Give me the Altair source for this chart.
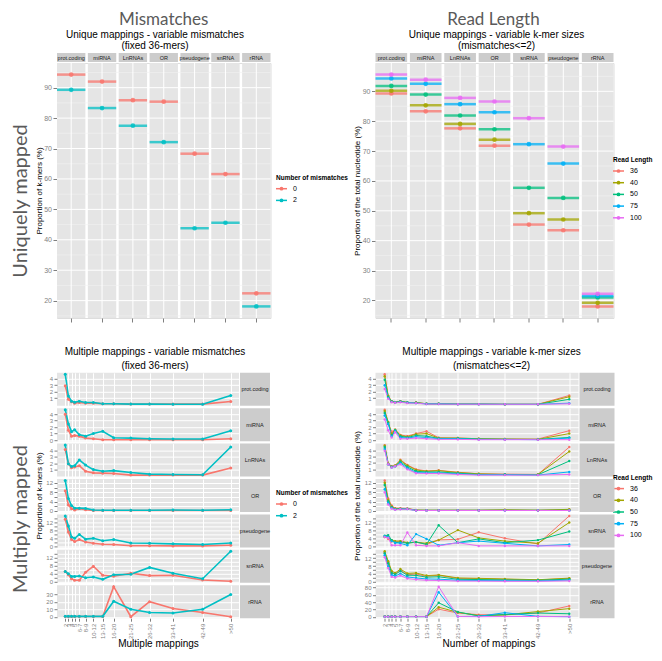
import altair as alt
import pandas as pd

# ================= DATA =================
tl_categories = ["prot.coding", "miRNA", "LnRNAs", "OR", "pseudogene", "snRNA", "rRNA"]
tl_mismatch_0 = [94.3, 92.0, 85.9, 85.4, 68.3, 61.6, 22.4]
tl_mismatch_2 = [89.3, 83.3, 77.5, 72.1, 43.8, 45.6, 18.1]

tr_categories = ["prot.coding", "miRNA", "LnRNAs", "OR", "snRNA", "pseudogene", "rRNA"]
tr_len_36 = [89.3, 83.3, 77.6, 71.8, 45.4, 43.5, 18.0]
tr_len_40 = [90.2, 85.3, 79.1, 73.8, 49.2, 47.1, 19.2]
tr_len_50 = [91.8, 88.9, 81.9, 77.3, 57.7, 54.3, 21.0]
tr_len_75 = [94.3, 92.5, 85.7, 83.0, 72.3, 65.8, 21.5]
tr_len_100 = [95.6, 93.9, 87.8, 86.6, 81.0, 71.5, 22.2]

mapping_labels = ["2", "3", "4", "5", "6-7", "8-9", "10-12", "13-15", "16-20",
                  "21-25", "26-32", "33-41", "42-49", ">50"]
mapping_x = [2, 3, 4, 5, 6.5, 8.5, 11, 14, 17.5, 23, 29, 36.5, 46, 55]

bl_categories = ["prot.coding", "miRNA", "LnRNAs", "OR", "pseudogene", "snRNA", "rRNA"]
bl_mismatch_0 = {
    "prot.coding": [2.9, 0.8, 0.4, 0.2, 0.3, 0.2, 0.2, 0.1, 0.1, 0.05, 0.05, 0.05, 0.05, 0.45],
    "miRNA": [4.0, 1.5, 0.6, 0.7, 0.6, 0.3, 0.2, 0.05, 0.05, 0.05, 0.05, 0.05, 0.05, 0.2],
    "LnRNAs": [4.1, 1.9, 1.3, 1.4, 1.6, 0.75, 0.5, 0.45, 0.4, 0.15, 0.15, 0.15, 0.15, 1.25],
    "OR": [8.6, 2.6, 1.0, 0.4, 1.0, 0.5, 0.2, 0.2, 0.2, 0.2, 0.2, 0.2, 0.2, 0.2],
    "pseudogene": [13.4, 7.1, 3.4, 2.4, 3.4, 2.2, 1.6, 1.1, 1.0, 0.4, 0.4, 0.3, 0.3, 0.6],
    "snRNA": [5.0, 3.3, 1.3, 0.5, 0.5, 4.6, 7.7, 3.1, 2.6, 4.1, 2.9, 3.1, 0.7, 0.0],
    "rRNA": [0.3, 0.3, 0.3, 0.3, 0.3, 0.3, 0.3, 0.3, 40.0, 0.0, 20.0, 11.0, 5.5, 0.0],
}
bl_mismatch_2 = {
    "prot.coding": [4.7, 1.3, 0.5, 0.35, 0.5, 0.3, 0.3, 0.1, 0.1, 0.05, 0.05, 0.02, 0.02, 1.4],
    "miRNA": [4.7, 2.5, 1.3, 1.6, 0.8, 0.6, 1.0, 1.35, 0.35, 0.3, 0.2, 0.15, 0.15, 1.45],
    "LnRNAs": [4.8, 1.9, 1.5, 1.6, 2.5, 1.7, 1.0, 0.75, 0.85, 0.55, 0.3, 0.25, 0.2, 4.5],
    "OR": [13.0, 5.3, 2.3, 1.2, 1.2, 1.1, 0.4, 0.3, 0.3, 0.3, 0.3, 0.4, 0.3, 0.5],
    "pseudogene": [15.0, 10.0, 4.7, 4.0, 5.9, 3.6, 4.0, 2.8, 3.4, 1.7, 1.6, 1.3, 1.0, 1.7],
    "snRNA": [5.0, 3.8, 2.5, 2.5, 2.7, 1.8, 2.2, 1.0, 3.3, 3.6, 7.1, 4.1, 1.3, 15.3],
    "rRNA": [0.5, 0.5, 0.5, 0.5, 0.5, 0.5, 0.5, 0.5, 20.5, 10.0, 5.5, 5.0, 10.0, 29.5],
}

br_categories = ["prot.coding", "miRNA", "LnRNAs", "OR", "snRNA", "pseudogene", "rRNA"]
br_len_36 = {
    "prot.coding": [4.7, 1.3, 0.5, 0.35, 0.5, 0.3, 0.3, 0.1, 0.1, 0.05, 0.05, 0.02, 0.02, 1.4],
    "miRNA": [4.7, 2.5, 1.3, 1.6, 0.8, 0.6, 1.0, 1.35, 0.35, 0.3, 0.2, 0.15, 0.15, 1.45],
    "LnRNAs": [4.8, 1.9, 1.5, 1.6, 2.5, 1.7, 1.0, 0.75, 0.85, 0.55, 0.3, 0.25, 0.2, 4.5],
    "OR": [13.0, 5.3, 2.3, 1.2, 1.2, 1.1, 0.4, 0.3, 0.3, 0.3, 0.3, 0.4, 0.3, 0.5],
    "snRNA": [5.0, 3.8, 2.5, 2.5, 2.7, 1.8, 2.2, 1.0, 3.3, 3.6, 7.1, 4.1, 1.3, 15.3],
    "pseudogene": [15.0, 10.0, 4.7, 4.0, 5.9, 3.6, 4.0, 2.8, 3.4, 1.7, 1.6, 1.3, 1.0, 1.7],
    "rRNA": [0.5, 0.5, 0.5, 0.5, 0.5, 0.5, 0.5, 0.5, 20.5, 10.0, 5.5, 5.0, 10.0, 29.5],
}
br_len_40 = {
    "prot.coding": [4.4, 1.3, 0.5, 0.35, 0.5, 0.3, 0.3, 0.1, 0.1, 0.05, 0.05, 0.02, 0.02, 1.2],
    "miRNA": [4.5, 2.8, 1.0, 1.6, 0.7, 0.5, 0.9, 1.0, 0.3, 0.3, 0.2, 0.15, 0.1, 1.0],
    "LnRNAs": [4.7, 1.9, 1.4, 1.6, 2.4, 1.6, 0.9, 0.7, 0.8, 0.5, 0.3, 0.2, 0.2, 3.8],
    "OR": [12.0, 4.8, 1.9, 1.0, 1.0, 1.0, 0.35, 0.3, 0.3, 0.3, 0.3, 0.5, 0.3, 0.7],
    "snRNA": [4.8, 4.5, 3.2, 2.7, 2.7, 1.9, 2.2, 1.6, 3.2, 8.2, 4.3, 2.7, 1.6, 12.0],
    "pseudogene": [15.5, 10.5, 5.5, 4.5, 6.5, 4.3, 4.5, 3.2, 3.5, 2.0, 1.8, 1.5, 1.1, 1.9],
    "rRNA": [0.3, 0.3, 0.3, 0.3, 0.3, 0.3, 0.3, 0.3, 26.0, 12.0, 3.0, 5.0, 14.0, 22.0],
}
br_len_50 = {
    "prot.coding": [3.85, 1.2, 0.45, 0.3, 0.45, 0.3, 0.25, 0.1, 0.1, 0.05, 0.05, 0.02, 0.02, 0.8],
    "miRNA": [4.2, 2.7, 0.8, 1.5, 0.6, 0.4, 0.7, 0.6, 0.25, 0.25, 0.15, 0.1, 0.1, 0.4],
    "LnRNAs": [4.5, 1.8, 1.4, 1.5, 2.2, 1.4, 0.7, 0.6, 0.6, 0.4, 0.2, 0.2, 0.15, 2.3],
    "OR": [11.1, 4.2, 1.6, 0.8, 0.9, 0.9, 0.3, 0.3, 0.3, 0.3, 0.3, 0.3, 0.3, 0.3],
    "snRNA": [5.4, 5.7, 3.2, 1.9, 2.2, 1.6, 2.2, 1.1, 10.6, 1.9, 3.8, 1.9, 3.2, 7.5],
    "pseudogene": [14.5, 9.5, 4.5, 3.8, 5.5, 3.4, 3.3, 2.4, 2.6, 1.3, 1.2, 1.0, 0.8, 1.4],
    "rRNA": [0.3, 0.3, 0.3, 0.3, 0.3, 0.3, 0.3, 0.3, 38.0, 13.0, 2.0, 6.0, 10.0, 8.0],
}
br_len_75 = {
    "prot.coding": [3.0, 1.0, 0.4, 0.3, 0.4, 0.25, 0.2, 0.08, 0.08, 0.04, 0.04, 0.02, 0.02, 0.2],
    "miRNA": [3.8, 2.5, 0.6, 1.4, 0.4, 0.3, 0.5, 0.4, 0.2, 0.2, 0.1, 0.1, 0.05, 0.3],
    "LnRNAs": [4.2, 1.8, 1.3, 1.5, 2.0, 1.2, 0.5, 0.45, 0.45, 0.3, 0.15, 0.15, 0.1, 0.6],
    "OR": [9.3, 3.5, 1.3, 0.6, 0.8, 0.8, 0.2, 0.2, 0.2, 0.2, 0.2, 0.2, 0.2, 0.2],
    "snRNA": [5.1, 4.8, 2.7, 1.9, 1.6, 0.6, 6.2, 3.8, 0.6, 1.9, 2.7, 1.6, 0.3, 1.0],
    "pseudogene": [13.5, 8.0, 3.5, 3.0, 4.2, 2.5, 2.0, 1.5, 1.4, 0.8, 0.7, 0.6, 0.5, 0.9],
    "rRNA": [0.2, 0.2, 0.2, 0.2, 0.2, 0.2, 0.2, 0.2, 67.0, 0.5, 1.0, 11.0, 1.0, 0.0],
}
br_len_100 = {
    "prot.coding": [2.4, 0.9, 0.35, 0.25, 0.35, 0.2, 0.2, 0.05, 0.05, 0.03, 0.03, 0.02, 0.02, 0.1],
    "miRNA": [3.2, 1.5, 0.4, 1.2, 0.2, 0.2, 0.3, 0.2, 0.1, 0.1, 0.05, 0.05, 0.05, 0.05],
    "LnRNAs": [3.9, 1.8, 1.3, 1.5, 1.8, 1.0, 0.4, 0.35, 0.35, 0.2, 0.1, 0.1, 0.1, 0.2],
    "OR": [8.0, 2.8, 1.0, 0.5, 0.7, 0.8, 0.2, 0.2, 0.2, 0.2, 0.2, 0.2, 0.2, 0.2],
    "snRNA": [4.8, 4.3, 0.6, 0.6, 0.6, 7.0, 0.6, 0.3, 0.3, 1.9, 0.3, 0.3, 0.3, 0.3],
    "pseudogene": [12.5, 7.0, 2.6, 2.2, 3.2, 1.7, 1.2, 0.8, 0.7, 0.4, 0.4, 0.3, 0.3, 0.5],
    "rRNA": [0.2, 0.2, 0.2, 0.2, 0.2, 0.2, 0.2, 0.2, 82.0, 0.5, 0.0, 0.5, 0.5, 0.0],
}

mismatch_names = ["0", "2"]
length_names = ["36", "40", "50", "75", "100"]

bl_yticks = {
    "prot.coding": [1, 2, 3, 4], "miRNA": [0, 1, 2, 3, 4], "LnRNAs": [1, 2, 3, 4],
    "OR": [0, 2, 4, 6, 8, 10, 12], "pseudogene": [0, 2, 4, 6, 8, 10, 12, 14],
    "snRNA": [0, 2, 4, 6, 8, 10, 12, 14], "rRNA": [0, 10, 20, 30],
}
br_yticks = {
    "prot.coding": [1, 2, 3, 4], "miRNA": [0, 1, 2, 3, 4], "LnRNAs": [1, 2, 3, 4],
    "OR": [0, 2, 4, 6, 8, 10, 12], "snRNA": [0, 2, 4, 6, 8, 10, 12, 14],
    "pseudogene": [0, 2, 4, 6, 8, 10, 12, 14], "rRNA": [0, 20, 40, 60, 80],
}
top_major = [20, 30, 40, 50, 60, 70, 80, 90]
top_minor = [15, 25, 35, 45, 55, 65, 75, 85, 95]

# ================= STYLE =================
FONT = "Liberation Sans"
HFONT = "Lato"
PANEL = "#E5E5E5"
STRIP = "#CCCCCC"
AXG = "#7F7F7F"
HEADG = "#5A5A5A"
MM_COLORS = ["#F8766D", "#00BFC4"]
RL_COLORS = ["#F8766D", "#A3A500", "#00BF7D", "#00B0F6", "#E76BF3"]


def text_layer(t, x, y, size, color="black", angle=0, font=FONT, weight="normal", align="center"):
    return alt.Chart(pd.DataFrame({"t": [t]})).mark_text(
        fontSize=size, color=color, angle=angle, font=font, fontWeight=weight,
        align=align, baseline="middle",
    ).encode(x=alt.value(x), y=alt.value(y), text="t:N")


def legend_layers(title, names, colors, x0, ytitle, first_gap=11, dy=11.7):
    """Hand-drawn ggplot-style legend: line + dot keys, placed beside a panel."""
    out = [text_layer(title, x0, ytitle, 6.5, weight="bold", align="left")]
    for i, (n, c) in enumerate(zip(names, colors)):
        yy = ytitle + first_gap + i * dy
        one = pd.DataFrame({"t": [n]})
        out.append(alt.Chart(one).mark_rule(color=c, strokeWidth=1.5).encode(
            x=alt.value(x0), x2=alt.value(x0 + 11), y=alt.value(yy)))
        out.append(alt.Chart(one).mark_point(filled=True, color=c, size=14, opacity=1).encode(
            x=alt.value(x0 + 5.5), y=alt.value(yy)))
        out.append(text_layer(n, x0 + 17, yy, 7, align="left"))
    return out


def expand(vals):
    lo, hi = min(vals), max(vals)
    e = 0.05 * (hi - lo)
    return [lo - e, hi + e]


def top_panel(cats, field, names, series, colors, W, H, ytitle, decor):
    rows = [{"cat": c, field: n, "value": v}
            for n, vals in zip(names, series) for c, v in zip(cats, vals)]
    df = pd.DataFrame(rows)
    dom = expand(list(df["value"]))
    pin = 0.08
    band = W / (len(cats) - pin) * (1 - pin)
    xsc = alt.Scale(type="band", domain=cats, paddingInner=pin, paddingOuter=0)
    xax = alt.Axis(labels=False, domain=False, ticks=True, tickColor=AXG, tickSize=4,
                   grid=False, title=None)
    ysc = alt.Scale(domain=dom, nice=False, zero=False)
    yax = alt.Axis(values=top_major, grid=False, domain=False, tickColor=AXG, tickSize=4,
                   labelColor=AXG, labelFontSize=7, labelFont=FONT, labelPadding=1.5,
                   title=ytitle, titleFont=FONT, titleFontSize=8, titleFontWeight="normal",
                   titleColor="black", titleX=-14)
    X = alt.X("cat:N", scale=xsc, axis=xax, sort=cats)
    csc = alt.Scale(domain=names, range=colors)
    cdf = pd.DataFrame({"cat": cats})
    minor = [v for v in top_minor if dom[0] <= v <= dom[1]]
    bg = alt.Chart(cdf).mark_rect(fill=PANEL).encode(x=X, y=alt.value(0), y2=alt.value(H))
    gmin = alt.Chart(pd.DataFrame({"g": minor})).mark_rule(color="#F2F2F2", strokeWidth=0.6).encode(
        y=alt.Y("g:Q", scale=ysc, axis=yax))
    gmaj = alt.Chart(pd.DataFrame({"g": top_major})).mark_rule(color="white", strokeWidth=1).encode(
        y=alt.Y("g:Q", scale=ysc, axis=yax))
    gver = alt.Chart(cdf).mark_rule(color="white", strokeWidth=1).encode(x=X)
    ticks = alt.Chart(df).mark_tick(orient="horizontal", thickness=2.5, size=band, opacity=0.75).encode(
        x=X, y=alt.Y("value:Q", scale=ysc, axis=yax),
        color=alt.Color(f"{field}:N", scale=csc, legend=None))
    pts = alt.Chart(df).mark_point(filled=True, size=22, opacity=0.85).encode(
        x=X, y=alt.Y("value:Q", scale=ysc, axis=yax),
        color=alt.Color(f"{field}:N", scale=csc, legend=None))
    srect = alt.Chart(cdf).mark_rect(fill=STRIP).encode(x=X, y=alt.value(-10), y2=alt.value(-1))
    stext = alt.Chart(cdf).mark_text(fontSize=5.5, font=FONT, color="#1A1A1A", baseline="middle").encode(
        x=X, y=alt.value(-5.5), text="cat:N")
    return alt.layer(bg, gmin, gmaj, gver, ticks, pts, srect, stext, *decor).properties(width=W, height=H)


def bottom_row(cat, field, names, series_dicts, colors, W, H, yticks, strip_w, lw, psize,
               ytitle=None, xtitle=None, xtitle_x=None, decor=()):
    rows = [{"x": xp, field: n, "value": v}
            for n, d in zip(names, series_dicts) for xp, v in zip(mapping_x, d[cat])]
    df = pd.DataFrame(rows)
    ydom = expand(list(df["value"]))
    xdom = expand(mapping_x)
    last = xtitle is not None
    label_expr = ("[" + ",".join("'" + l + "'" for l in mapping_labels) + "][indexof(["
                  + ",".join(str(v) for v in mapping_x) + "], datum.value)]")
    xkw = dict(values=mapping_x, grid=True, gridColor="white", gridWidth=1, domain=False,
               labels=last, ticks=last, labelExpr=label_expr, labelAngle=270, labelFontSize=6,
               labelColor=AXG, tickColor=AXG, tickSize=3, labelPadding=2, labelFont=FONT,
               labelOverlap=False)
    if last:
        xkw.update(title=xtitle, titleFont=FONT, titleFontSize=10, titleFontWeight="normal",
                   titleColor="black", titleX=xtitle_x, titleY=20)
    else:
        xkw.update(title=None)
    xax = alt.Axis(**xkw)
    ykw = dict(values=yticks, grid=True, gridColor="white", gridWidth=1, domain=False,
               labelFontSize=6, labelColor=AXG, tickColor=AXG, tickSize=3, labelPadding=1.5,
               labelFont=FONT)
    if ytitle is not None:
        ykw.update(title=ytitle, titleFont=FONT, titleFontSize=8, titleFontWeight="normal",
                   titleColor="black", titleX=-14)
    else:
        ykw.update(title=None)
    yax = alt.Axis(**ykw)
    xsc = alt.Scale(domain=xdom, nice=False, zero=False)
    ysc = alt.Scale(domain=ydom, nice=False, zero=False)
    csc = alt.Scale(domain=names, range=colors)
    X = alt.X("x:Q", scale=xsc, axis=xax)
    Y = alt.Y("value:Q", scale=ysc, axis=yax)
    line = alt.Chart(df).mark_line(strokeWidth=lw).encode(
        x=X, y=Y, color=alt.Color(f"{field}:N", scale=csc, legend=None))
    pts = alt.Chart(df).mark_point(filled=True, size=psize, opacity=1).encode(
        x=X, y=Y, color=alt.Color(f"{field}:N", scale=csc, legend=None))
    sdf = pd.DataFrame({"t": [cat]})
    srect = alt.Chart(sdf).mark_rect(fill=STRIP).encode(
        x=alt.value(W + 1), x2=alt.value(W + 1 + strip_w), y=alt.value(0), y2=alt.value(H))
    stext = alt.Chart(sdf).mark_text(fontSize=5.5, font=FONT, color="#1A1A1A", baseline="middle").encode(
        x=alt.value(W + 1 + strip_w / 2), y=alt.value(H / 2), text="t:N")
    return alt.layer(line, pts, srect, stext, *decor).properties(
        width=W, height=H, view=alt.ViewBackground(fill=PANEL, stroke=None))


def spacer(w, h):
    return alt.Chart(pd.DataFrame({"t": [""]})).mark_text().encode(text="t:N").properties(width=w, height=h)


IND = dict(color="independent")

# ---- layout (page pixels) ----
TW_L, TW_R, TH = 213.5, 238, 255
BW_L, BW_R, BH = 182, 203, 33
ROW_GAP = 2.4
TOP_Y, BOT_Y, LEFT_X, RIGHT_X = 62, 371, 59, 377
HEAD_Y = -43
SUB1_Y, SUB2_Y = -28.5, -17.3

# ---- top panels ----
tl = top_panel(
    tl_categories, "mm", mismatch_names, [tl_mismatch_0, tl_mismatch_2], MM_COLORS,
    TW_L, TH, "Proportion of k-mers (%)",
    [text_layer("Mismatches", 106.7, HEAD_Y, 17, HEADG, font=HFONT),
     text_layer("Unique mappings - variable mismatches", 98, SUB1_Y, 10),
     text_layer("(fixed 36-mers)", 98, SUB2_Y, 10),
     text_layer("Uniquely mapped", -36, 138, 20, HEADG, angle=270, font=HFONT)]
    + legend_layers("Number of mismatches", mismatch_names, MM_COLORS, 219, 114.7))
tr = top_panel(
    tr_categories, "rl", length_names,
    [tr_len_36, tr_len_40, tr_len_50, tr_len_75, tr_len_100], RL_COLORS,
    TW_R, TH, "Proportion of the total nucleotide (%)",
    [text_layer("Read Length", 118, HEAD_Y, 17, HEADG, font=HFONT),
     text_layer("Unique mappings - variable k-mer sizes", 121, SUB1_Y, 10),
     text_layer("(mismatches<=2)", 121, SUB2_Y, 10)]
    + legend_layers("Read Length", length_names, RL_COLORS, 237.5, 97))

# ---- bottom panels ----
bl_rows = []
for i, c in enumerate(bl_categories):
    kw = {}
    decor = []
    if i == 0:
        decor = [text_layer("Multiple mappings - variable mismatches", 98, -20.6, 10),
                 text_layer("(fixed 36-mers)", 98, -6.6, 10)]
    if i == 3:
        kw["ytitle"] = "Proportion of k-mers (%)"
        decor = ([text_layer("Multiply mapped", -36, 40, 20, HEADG, angle=270, font=HFONT)]
                 + legend_layers("Number of mismatches", mismatch_names, MM_COLORS, 219, 14))
    if i == 6:
        kw["xtitle"] = "Multiple mappings"
        kw["xtitle_x"] = 101
    bl_rows.append(bottom_row(c, "mm", mismatch_names, [bl_mismatch_0, bl_mismatch_2], MM_COLORS,
                              BW_L, BH, bl_yticks[c], 30, 1.6, 9, decor=decor, **kw))

br_rows = []
for i, c in enumerate(br_categories):
    kw = {}
    decor = []
    if i == 0:
        decor = [text_layer("Multiple mappings - variable k-mer sizes", 116, -20.6, 10),
                 text_layer("(mismatches<=2)", 116, -6.6, 10)]
    if i == 2:
        decor = legend_layers("Read Length", length_names, RL_COLORS, 237.5, 34)
    if i == 3:
        kw["ytitle"] = "Proportion of the total nucleotide (%)"
    if i == 6:
        kw["xtitle"] = "Number of mappings"
        kw["xtitle_x"] = 113
    br_rows.append(bottom_row(c, "rl", length_names,
                              [br_len_36, br_len_40, br_len_50, br_len_75, br_len_100], RL_COLORS,
                              BW_R, BH, br_yticks[c], 35, 1.0, 6, decor=decor, **kw))

cells = [tl, tr, spacer(10, BOT_Y - TOP_Y - TH - 2 * ROW_GAP), spacer(10, 10)]
for a, b in zip(bl_rows, br_rows):
    cells += [a, b]

chart = alt.concat(
    *cells, columns=2, spacing={"row": ROW_GAP, "column": RIGHT_X - LEFT_X - TW_L}, bounds="flush"
).resolve_scale(**IND).properties(
    padding={"left": 2, "top": 2, "right": 0, "bottom": 0}
).configure_view(stroke=None).configure(font=FONT)

chart.save("out.html", embed_options={"renderer": "svg", "actions": False})
